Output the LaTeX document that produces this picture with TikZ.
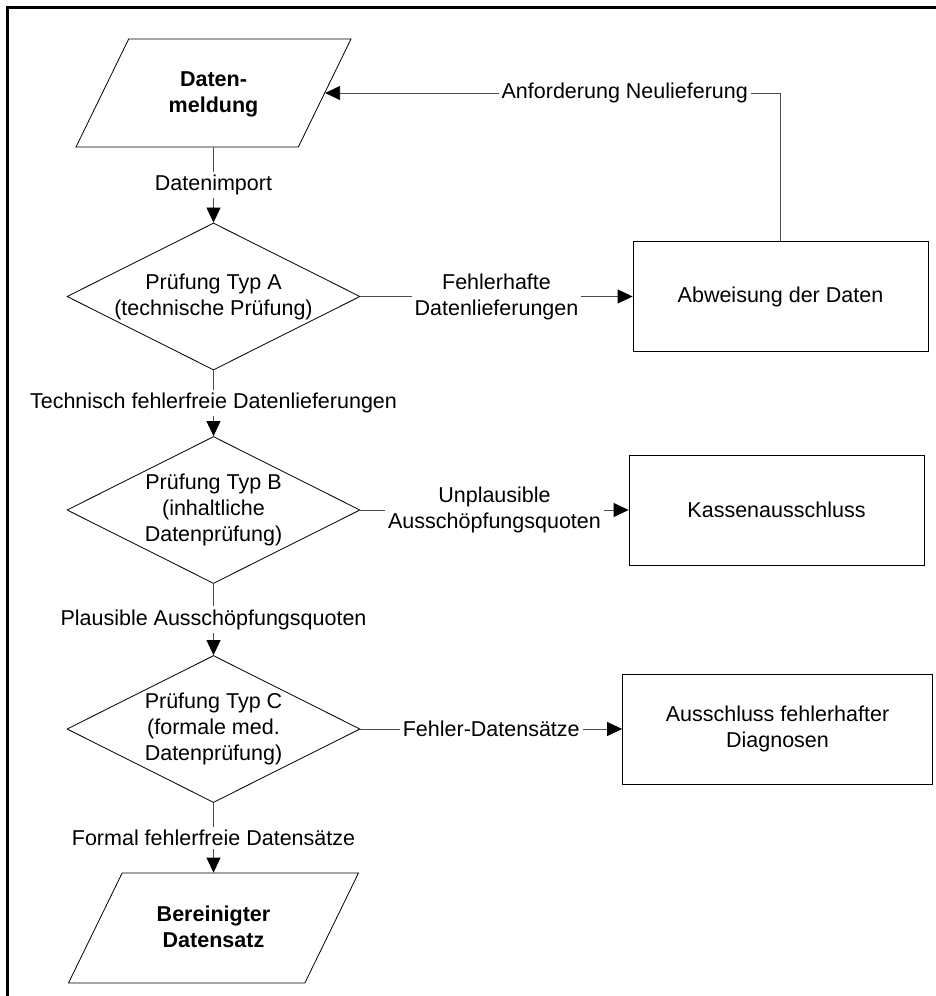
\documentclass[tikz,border=0pt]{standalone}
\usepackage{fontspec}
\setmainfont{Liberation Sans}
\usetikzlibrary{shapes,arrows,positioning,calc,arrows.meta}

\tikzset{
  datio/.style={trapezium, trapezium left angle=64, trapezium right angle=116,
    trapezium stretches body, draw, inner xsep=0pt, inner ysep=15.5pt,
    text height=21pt, text depth=2pt,
    font=\fontsize{10.75}{13}\selectfont\bfseries, align=center},
  check/.style={diamond, draw, aspect=2, inner sep=0pt,
    minimum width=146.5pt, minimum height=73.5pt, align=center},
  result/.style={rectangle, draw, minimum width=147.5pt, minimum height=55pt, align=center},
  lbl/.style={fill=white, inner sep=1.5pt, align=center},
  flow/.style={draw=black!70, -{Triangle[length=7.5pt,width=7pt,color=black]}}
}

\begin{document}
\begin{tikzpicture}[x=1pt, y=1pt, node distance=105pt, on grid, font=\fontsize{10.75}{13}\selectfont]

  \useasboundingbox (0,0) rectangle (468,-498);
  % frame
  \draw[line width=1.5pt] (3.5,-498) |- (468,-3.75);

  % main column
  \node[datio, minimum width=137.5pt] (dm) at (106.75,-46.5) {Daten-\\meldung};
  \node[check] (pa) [below=101.75pt of dm] {Prüfung Typ A\\(technische Prüfung)};
  \node[check] (pb) [below=106.75pt of pa] {Prüfung Typ B\\(inhaltliche\\Datenprüfung)};
  \node[check] (pc) [below=109.5pt of pb] {Prüfung Typ C\\(formale med.\\Datenprüfung)};
  \node[datio, minimum width=145pt, inner ysep=16pt] (bd) [below=99.5pt of pc] {Bereinigter\\Datensatz};

  % rejected data
  \node[result] (ab) [right=283.5pt of pa] {Abweisung der Daten};
  \node[result] (ka) [right=281.5pt of pb] {Kassenausschluss};
  \node[result, minimum width=155pt] (ad) [right=282pt of pc] {Ausschluss fehlerhafter\\Diagnosen};

  % connectors
  \path[flow]
    (dm) edge node[lbl] {Datenimport} (pa)
    (pa) edge node[lbl] {Technisch fehlerfreie Datenlieferungen} (pb)
    (pb) edge node[lbl] {Plausible Ausschöpfungsquoten} (pc)
    (pc) edge node[lbl] {Formal fehlerfreie Datensätze} (bd)
    (pa) edge node[lbl] {Fehlerhafte\\Datenlieferungen} (ab)
    (pb) edge node[lbl] {Unplausible\\Ausschöpfungsquoten} (ka)
    (pc) edge node[lbl] {Fehler-Datensätze} (ad);

  % feedback loop
  \draw[flow] (ab) |- node[lbl, pos=0.671] {Anforderung Neulieferung} (dm);

\end{tikzpicture}
\end{document}
